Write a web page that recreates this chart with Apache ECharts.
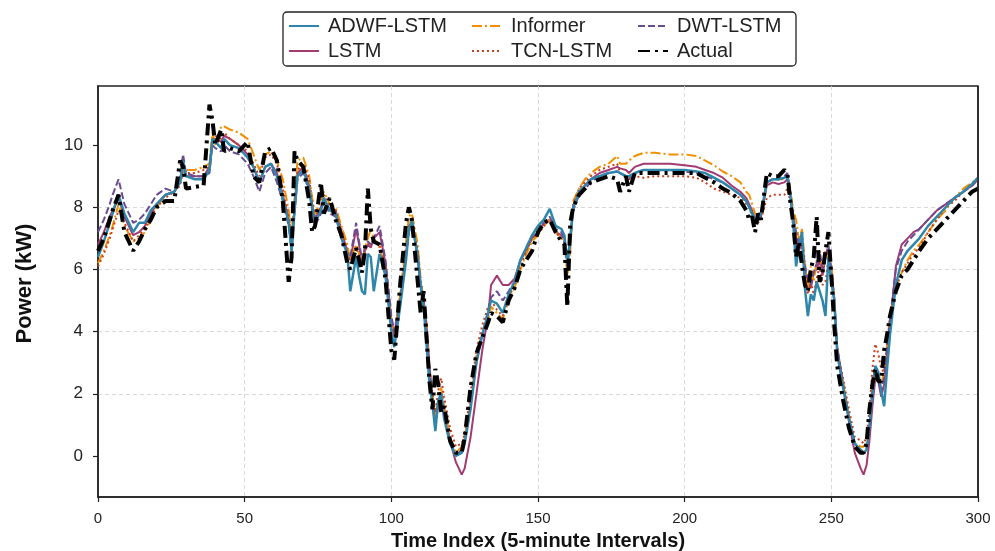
<!DOCTYPE html>
<html>
<head>
<meta charset="utf-8">
<script src="https://cdn.jsdelivr.net/npm/echarts@6/dist/echarts.min.js"></script>
<style>
  html, body { margin: 0; padding: 0; background: #fff; }
  #chart { width: 995px; height: 551px; }
</style>
</head>
<body>
<div id="chart"></div>
<script>
// time index (5-minute steps) of the sampled points
const timeIndex = [
  0, 2, 4, 5, 7, 9, 12, 14, 16, 18,
  20, 23, 26, 28, 29, 30, 33, 36, 38, 39,
  40, 42, 43, 45, 48, 51, 53, 55, 57, 59,
  61, 63, 65, 66, 67, 68, 70, 72, 73, 74,
  76, 77, 79, 81, 83, 85, 86, 88, 89, 90,
  91, 92, 93, 94, 96, 98, 100, 101, 103, 105,
  106, 107, 109, 110, 111, 112, 113, 114, 115, 116,
  117, 118, 120, 122, 124, 125, 127, 129, 131, 133,
  134, 136, 138, 140, 142, 144, 146, 148, 150, 152,
  154, 156, 158, 159, 160, 161, 162, 164, 166, 168,
  171, 174, 177, 178, 180, 181, 183, 186, 190, 195,
  200, 204, 207, 210, 213, 216, 219, 221, 222, 223,
  224, 225, 226, 228, 230, 232, 234, 235, 236, 237,
  238, 239, 240, 241, 242, 243, 244, 245, 246, 247, 248, 249, 250, 251, 252,
  254, 256, 258, 260, 261, 262, 263, 264, 265, 266,
  267, 268, 269, 270, 272, 274, 276, 278, 280, 283,
  286, 289, 292, 295, 298, 300
];

const actual = [
  6.6, 7.0, 7.6, 7.9, 8.4, 7.2, 6.6, 6.9, 7.3, 7.6,
  8.0, 8.2, 8.2, 9.5, 9.3, 8.6, 8.65, 8.7, 11.3, 10.8,
  10.0, 10.5, 9.8, 9.9, 9.8, 10.1, 9.0, 8.8, 9.8, 9.9,
  9.5, 8.2, 5.6, 6.4, 9.8, 9.5, 9.3, 8.2, 7.2, 7.4,
  8.8, 7.8, 8.3, 7.6, 7.1, 6.2, 6.0, 6.7, 6.3, 5.9,
  6.6, 8.6, 7.3, 6.9, 6.8, 5.7, 3.4, 3.1, 5.5, 7.5,
  8.0, 7.6, 5.6, 4.6, 5.3, 3.8, 2.4, 1.5, 2.8, 2.3,
  1.4, 1.6, 0.5, 0.1, 0.1, 0.6, 2.2, 3.3, 3.8, 4.3,
  4.6, 4.5, 4.3, 5.0, 5.4, 6.0, 6.3, 6.6, 7.2, 7.5,
  7.6, 7.2, 6.9, 6.8, 4.8, 7.5, 8.0, 8.4, 8.6, 8.8,
  8.9, 9.0, 8.9, 8.5, 9.0, 8.5, 9.1, 9.1, 9.1, 9.1,
  9.1, 9.1, 8.95, 8.8, 8.6, 8.45, 8.2, 7.9, 7.6, 7.7,
  7.2, 7.8, 7.6, 9.1, 9.0, 9.0, 9.2, 9.1, 8.2, 7.5,
  6.4, 6.9, 6.1, 5.5, 5.3, 6.0, 6.4, 7.7, 5.6, 5.9, 6.6, 7.2, 5.8, 4.2, 2.9,
  1.8, 0.9, 0.3, 0.1, 0.1, 0.4, 1.5, 2.3, 2.8, 2.4,
  2.4, 3.4, 3.9, 4.5, 5.3, 5.8, 6.0, 6.3, 6.6, 7.0,
  7.3, 7.6, 7.9, 8.2, 8.5, 8.6
];

const adwfLstm = [
  6.4, 6.9, 7.5, 7.8, 8.4, 7.8, 7.2, 7.5, 7.5, 7.9,
  8.1, 8.4, 8.5, 8.8, 9.5, 9.0, 8.9, 8.9, 9.2, 10.2,
  10.1, 9.9, 10.2, 10.0, 9.9, 9.6, 9.3, 8.8, 9.3, 9.4,
  9.0, 8.3, 7.5, 6.6, 7.9, 9.0, 9.2, 8.6, 8.0, 7.5,
  7.9, 8.3, 7.9, 7.8, 7.0, 6.5, 5.3, 6.4, 5.8, 5.3,
  5.2, 6.5, 6.4, 5.3, 6.5, 5.8, 4.0, 3.5, 4.8, 6.3,
  7.3, 7.6, 6.4, 5.5, 4.8, 3.6, 2.3, 1.7, 0.8, 1.8,
  2.0, 1.2, 0.4, 0.0, 0.1, 0.4, 1.5, 3.0, 3.9, 4.6,
  5.0, 4.9, 4.6, 5.2, 5.6, 6.3, 6.7, 7.1, 7.4, 7.6,
  7.95, 7.4, 7.3, 7.1, 6.2, 7.0, 8.0, 8.5, 8.7, 8.9,
  9.0, 9.1, 9.15, 9.1, 9.0, 9.0, 9.1, 9.2, 9.2, 9.2,
  9.2, 9.15, 9.1, 8.95, 8.8, 8.6, 8.4, 8.2, 8.0, 7.8,
  7.6, 7.6, 7.8, 8.8, 8.9, 8.9, 8.95, 9.0, 8.4, 7.5,
  6.1, 6.8, 7.2, 5.4, 4.5, 5.2, 5.0, 5.6, 5.3, 5.0, 4.5, 6.4, 5.6, 5.0, 3.3,
  2.2, 1.2, 0.4, 0.2, 0.1, 0.2, 0.9, 2.0, 2.9, 2.7,
  2.1, 1.6, 2.8, 3.9, 5.5, 6.3, 6.6, 6.8, 7.0, 7.4,
  7.7, 8.0, 8.3, 8.5, 8.75, 8.95
];

const lstm = [
  6.8, 7.2, 7.7, 7.9, 8.3, 7.7, 7.1, 7.2, 7.4, 7.8,
  8.1, 8.4, 8.5, 8.9, 9.4, 9.0, 9.0, 9.0, 9.3, 10.2,
  10.2, 10.1, 10.3, 10.2, 10.0, 9.7, 9.3, 8.8, 9.3, 9.4,
  9.1, 8.4, 7.6, 6.8, 8.0, 9.1, 9.3, 8.7, 8.1, 7.6,
  8.0, 8.3, 7.9, 7.9, 7.2, 6.6, 6.3, 7.3, 6.8, 6.1,
  6.6, 6.8, 6.7, 7.0, 7.2, 6.2, 4.4, 3.9, 5.0, 6.5,
  7.3, 7.5, 6.4, 5.5, 5.0, 4.2, 2.9, 1.9, 1.1, 1.6,
  2.0, 1.4, 0.5, -0.2, -0.6, -0.4, 0.6, 2.0, 3.4, 4.5,
  5.5, 5.8, 5.5, 5.5, 5.7, 6.3, 6.6, 7.0, 7.2, 7.5,
  7.6, 7.2, 7.1, 7.0, 6.3, 7.0, 8.0, 8.4, 8.7, 8.9,
  9.1, 9.2, 9.3, 9.25, 9.2, 9.1, 9.3, 9.4, 9.4, 9.4,
  9.35, 9.3, 9.2, 9.1, 8.95, 8.7, 8.5, 8.3, 8.1, 7.9,
  7.6, 7.6, 7.7, 8.7, 8.8, 8.75, 8.8, 8.9, 8.4, 7.6,
  7.0, 6.6, 6.9, 6.0, 5.6, 5.4, 5.9, 6.0, 6.3, 5.8, 6.4, 6.6, 6.0, 5.1, 3.5,
  2.3, 1.1, 0.1, -0.4, -0.6, -0.3, 0.5, 1.6, 2.5, 2.4,
  1.9, 2.3, 3.3, 4.2, 6.1, 6.8, 7.0, 7.2, 7.3, 7.6,
  7.9, 8.1, 8.3, 8.5, 8.7, 8.9
];

const informer = [
  6.2, 6.6, 7.1, 7.4, 8.1, 7.4, 6.9, 7.0, 7.2, 7.6,
  8.0, 8.4, 8.5, 8.8, 9.2, 9.2, 9.2, 9.3, 9.4, 10.4,
  10.0, 10.6, 10.6, 10.5, 10.4, 10.2, 9.7, 9.2, 9.7, 9.8,
  9.5, 8.9, 7.9, 7.1, 8.3, 9.5, 9.6, 9.0, 8.3, 7.8,
  8.2, 8.5, 8.1, 8.0, 7.4, 6.8, 6.3, 6.8, 6.5, 6.2,
  6.7, 7.0, 7.3, 7.0, 6.7, 6.0, 4.3, 3.8, 5.2, 6.9,
  7.7, 7.8, 6.8, 5.7, 5.0, 4.3, 2.6, 2.0, 1.2, 1.8,
  2.2, 1.6, 0.6, 0.1, 0.3, 0.6, 1.7, 3.2, 4.0, 4.4,
  4.8, 4.6, 4.4, 5.0, 5.4, 6.0, 6.5, 6.9, 7.1, 7.4,
  7.6, 7.2, 7.0, 6.9, 5.8, 6.6, 8.2, 8.6, 8.9, 9.1,
  9.3, 9.4, 9.65, 9.4, 9.4, 9.5, 9.65, 9.75, 9.75, 9.7,
  9.7, 9.65, 9.5, 9.35, 9.15, 9.0, 8.8, 8.5, 8.4, 8.1,
  7.8, 7.7, 7.8, 8.8, 8.9, 8.9, 8.9, 9.0, 8.6, 7.9,
  7.6, 6.9, 7.3, 6.2, 5.4, 6.1, 5.6, 6.3, 6.6, 5.9, 6.6, 6.3, 6.2, 5.0, 3.4,
  2.4, 1.3, 0.4, 0.3, 0.3, 0.4, 1.2, 2.3, 2.9, 2.6,
  2.3, 2.7, 3.6, 4.5, 5.4, 5.9, 6.3, 6.6, 6.8, 7.2,
  7.6, 7.9, 8.3, 8.6, 8.8, 8.95
];

const tcnLstm = [
  6.1, 6.5, 7.0, 7.3, 7.9, 7.5, 6.9, 7.1, 7.3, 7.7,
  8.0, 8.3, 8.5, 8.7, 9.2, 9.1, 9.1, 9.2, 9.3, 10.1,
  10.3, 10.2, 10.4, 10.2, 10.0, 9.8, 9.4, 9.0, 9.6, 9.7,
  9.4, 8.6, 7.7, 6.9, 8.1, 9.2, 9.4, 8.9, 8.2, 7.7,
  8.0, 8.4, 8.0, 7.9, 7.3, 6.6, 6.2, 6.7, 6.4, 6.1,
  6.6, 6.8, 6.9, 6.9, 6.8, 6.0, 4.2, 3.8, 5.1, 6.6,
  7.4, 7.6, 6.6, 5.6, 5.1, 4.2, 2.8, 2.0, 1.4, 2.1,
  2.5, 1.9, 0.9, 0.3, 0.4, 0.7, 2.0, 3.4, 4.2, 4.8,
  5.0, 4.7, 4.5, 5.1, 5.5, 6.1, 6.6, 7.0, 7.2, 7.4,
  7.6, 7.2, 7.0, 6.9, 6.2, 7.0, 8.1, 8.6, 8.8, 9.0,
  9.2, 9.3, 9.4, 9.1, 9.0, 8.9, 9.0, 8.95, 9.0, 9.0,
  9.0, 8.95, 8.8, 8.6, 8.5, 8.4, 8.3, 8.1, 8.0, 7.7,
  7.5, 7.5, 7.6, 8.3, 8.4, 8.4, 8.4, 8.6, 8.2, 7.4,
  7.0, 6.5, 6.7, 5.8, 5.2, 5.6, 5.2, 5.7, 6.1, 5.5, 5.6, 6.3, 5.8, 5.0, 3.4,
  2.5, 1.5, 0.6, 0.5, 0.4, 0.6, 1.5, 2.8, 3.6, 3.3,
  2.8, 2.7, 3.5, 4.3, 5.4, 5.9, 6.2, 6.5, 6.7, 7.2,
  7.6, 8.0, 8.2, 8.5, 8.7, 8.9
];

const dwtLstm = [
  7.2, 7.6, 8.1, 8.4, 8.9, 8.1, 7.5, 7.6, 7.8, 8.1,
  8.4, 8.6, 8.5, 9.0, 9.7, 9.1, 9.0, 9.0, 9.1, 10.0,
  9.9, 9.8, 10.0, 9.8, 9.7, 9.4, 9.0, 8.5, 9.1, 9.3,
  8.8, 8.2, 7.4, 6.6, 7.8, 8.9, 9.1, 8.5, 7.9, 7.4,
  7.8, 8.2, 7.8, 7.7, 7.0, 6.5, 6.4, 7.5, 6.9, 6.3,
  6.7, 6.9, 6.8, 7.0, 7.4, 6.3, 4.5, 4.0, 5.0, 6.4,
  7.2, 7.5, 6.4, 5.4, 4.9, 4.1, 2.7, 1.8, 0.9, 1.7,
  2.0, 1.3, 0.5, 0.0, 0.2, 0.5, 1.6, 3.0, 3.9, 4.7,
  5.1, 5.3, 5.0, 5.3, 5.6, 6.3, 6.7, 7.1, 7.2, 7.5,
  7.7, 7.3, 7.2, 6.9, 6.1, 6.9, 7.9, 8.4, 8.6, 8.8,
  9.0, 9.1, 9.15, 9.1, 9.0, 8.9, 9.1, 9.2, 9.2, 9.2,
  9.15, 9.1, 9.0, 8.9, 8.8, 8.6, 8.4, 8.2, 8.0, 7.8,
  7.6, 7.6, 7.7, 8.8, 8.9, 8.9, 9.0, 9.1, 8.5, 7.7,
  7.2, 6.8, 7.0, 6.1, 5.7, 5.5, 5.9, 6.2, 6.6, 6.0, 6.4, 6.8, 6.0, 5.0, 3.5,
  2.3, 1.2, 0.4, 0.2, 0.1, 0.2, 1.0, 2.2, 2.8, 2.5,
  2.1, 2.5, 3.5, 4.4, 6.0, 6.6, 6.9, 7.1, 7.3, 7.6,
  7.9, 8.1, 8.3, 8.5, 8.7, 8.9
];

const yTicks = [0, 2, 4, 6, 8, 10];

const chart = echarts.init(document.getElementById('chart'));

const pairs = vals => timeIndex.map((x, i) => [x, vals[i]]);
const font = 'Liberation Sans, Arial, Helvetica, sans-serif';

function lineSeries(name, vals, color, width, type, z) {
  return {
    name: name,
    type: 'line',
    data: pairs(vals),
    symbol: 'none',
    showSymbol: false,
    animation: false,
    z: z,
    lineStyle: { color: color, width: width, type: type },
    itemStyle: { color: color }
  };
}

const legendText = { fontSize: 20, fontFamily: font, color: '#222', padding: [0, 0, 0, 4] };
function legendCol(names, left) {
  return {
    data: names,
    orient: 'vertical',
    left: left,
    top: 16,
    padding: 0,
    itemWidth: 30,
    itemHeight: 12,
    itemGap: 5,
    itemStyle: { opacity: 0 },
    textStyle: legendText
  };
}

const gridLine = { show: true, showMinLine: false, showMaxLine: false,
  lineStyle: { color: '#d4d4d4', width: 0.9, type: [4, 3] } };

chart.setOption({
  backgroundColor: '#fff',
  animation: false,
  grid: {
    left: 98, right: 17, top: 86, bottom: 54,
    outerBoundsMode: 'none',
    containLabel: false,
    show: true, borderColor: '#222', borderWidth: 1.5, backgroundColor: 'transparent'
  },
  legend: [
    legendCol(['ADWF-LSTM', 'LSTM'], 288),
    legendCol(['Informer', 'TCN-LSTM'], 471),
    legendCol(['DWT-LSTM', 'Actual'], 637)
  ],
  graphic: [{
    type: 'rect',
    shape: { x: 283, y: 12, width: 513, height: 54, r: 4 },
    style: { fill: 'none', stroke: '#222', lineWidth: 1.3 },
    silent: true
  }, {
    type: 'line',
    shape: { x1: 978, y1: 86, x2: 978, y2: 497 },
    style: { stroke: '#222', lineWidth: 1.5 },
    silent: true,
    z: 10
  }],
  xAxis: {
    type: 'value',
    min: 0, max: 300, interval: 50,
    name: 'Time Index (5-minute Intervals)',
    nameLocation: 'middle',
    nameGap: 34,
    nameTextStyle: { fontSize: 20, fontWeight: 'bold', fontFamily: font, color: '#111' },
    axisLine: { onZero: false, lineStyle: { color: '#222', width: 1.5 } },
    axisTick: { inside: false, length: 5, lineStyle: { color: '#222', width: 1.2 } },
    axisLabel: { fontSize: 15, fontFamily: font, color: '#222', margin: 14 },
    splitLine: gridLine
  },
  yAxis: {
    type: 'value',
    min: -1.32, max: 11.9,
    name: 'Power (kW)',
    nameLocation: 'middle',
    nameGap: 62,
    nameTextStyle: { fontSize: 22, fontWeight: 'bold', fontFamily: font, color: '#111', padding: [0, 0, 0, 16] },
    axisLine: { show: true, onZero: false, lineStyle: { color: '#222', width: 1.5 } },
    axisTick: { show: true, length: 5, customValues: yTicks, lineStyle: { color: '#222', width: 1.2 } },
    axisLabel: { fontSize: 17, fontFamily: font, color: '#222', margin: 15, customValues: yTicks },
    splitLine: gridLine
  },
  series: [
    lineSeries('ADWF-LSTM', adwfLstm, '#2E86AB', 2.5, 'solid', 3),
    lineSeries('LSTM', lstm, '#A23B72', 2, 'solid', 2),
    lineSeries('Informer', informer, '#F18F01', 2, [10, 3, 2, 3], 2),
    lineSeries('TCN-LSTM', tcnLstm, '#C73E1D', 2, [2, 3], 2),
    lineSeries('DWT-LSTM', dwtLstm, '#6A4C93', 2, [7, 3], 2),
    lineSeries('Actual', actual, '#000000', 4, [12, 5, 3, 5], 4)
  ]
});
</script>
</body>
</html>
